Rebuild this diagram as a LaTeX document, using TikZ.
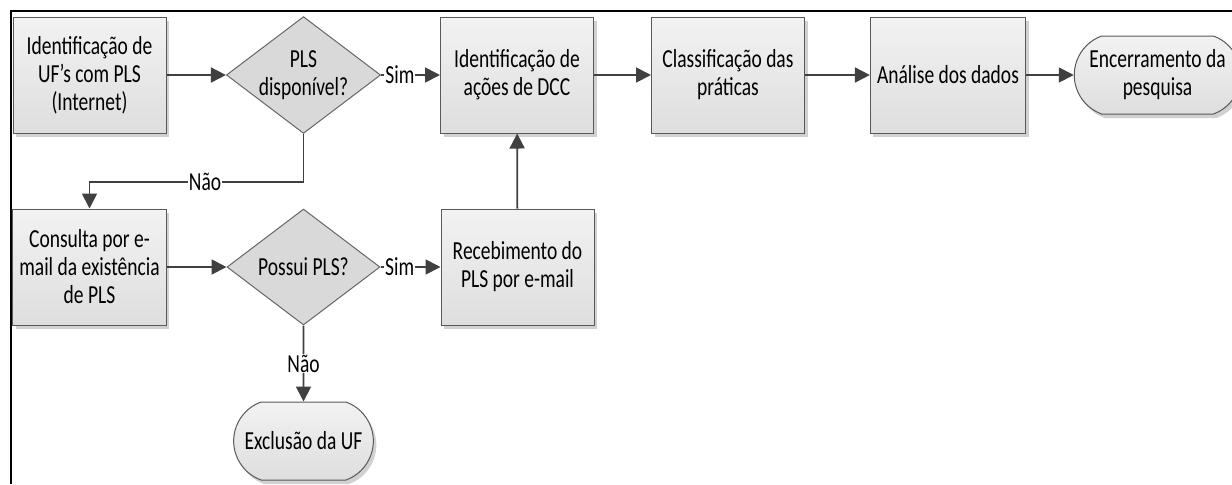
\documentclass[tikz,border=0pt]{standalone}
\usepackage{fontspec}
\setmainfont{Carlito}[FakeStretch=0.75]
\usetikzlibrary{shapes,shadows,arrows.meta}

\begin{document}
\begin{tikzpicture}[
    x=0.5pt,
    y=-0.5pt,
    font=\fontsize{13}{14}\selectfont,
    proc/.style={draw=black!65,line width=0.5pt,top color=black!5,bottom color=black!13,
      minimum width=76.5pt,minimum height=58pt,align=center,
      drop shadow={shadow xshift=1.5pt,shadow yshift=-2pt,fill=black!18,opacity=1}},
    decision/.style={diamond,aspect=1.32,draw=black!60,line width=0.5pt,fill=black!15,
      minimum width=76.5pt,minimum height=58pt,inner sep=0pt,align=center},
    term/.style={rounded rectangle,rounded rectangle arc length=140,draw=black!65,line width=0.5pt,
      top color=black!5,bottom color=black!13,minimum width=76.5pt,minimum height=39pt,align=center,
      drop shadow={shadow xshift=1.5pt,shadow yshift=-2pt,fill=black!18,opacity=1}},
    flow/.style={draw=black!75,line width=0.9pt,-{Triangle[length=7.5pt,width=7.5pt]}},
    lbl/.style={fill=white,inner sep=0.5pt}
    ]
    \useasboundingbox (0,0) rectangle (1232,484);
    % frame
    \draw[line width=1pt] (11,484) -- (11,11) -- (1232,11);

    \node[proc] (b1) at (89.5,75) {Identificação de\\UF’s com PLS\\(Internet)};
    \node[decision] (d1) at (303.5,75) {PLS\\disponível?};
    \node[proc] (b2) at (517,75) {Identificação de\\ações de DCC};
    \node[proc] (b3) at (728,75) {Classificação das\\práticas};
    \node[proc] (b4) at (948,75) {Análise dos dados};
    \node[term,minimum width=74.5pt] (t1) at (1157.5,75) {Encerramento da\\pesquisa};

    \node[proc] (b5) at (89.5,267) {Consulta por e-\\mail da existência\\de PLS};
    \node[decision] (d2) at (303.5,267) {Possui PLS?};
    \node[proc] (b6) at (517.5,267) {Recebimento do\\PLS por e-mail};
    \node[term] (t2) at (303.5,441) {Exclusão da UF};

    % top row
    \draw[flow] (b1) -- (d1);
    \draw[flow] (d1) -- node[lbl,pos=0.32] {Sim} (b2);
    \draw[flow] (b2) -- (b3);
    \draw[flow] (b3) -- (b4);
    \draw[flow] (b4) -- (t1);
    % not found on the internet
    \draw[flow] (d1.south) -- ++(0,48) -| node[lbl,pos=0.23] {Não} (b5.north);
    % bottom row
    \draw[flow] (b5) -- (d2);
    \draw[flow] (d2) -- node[lbl,pos=0.32] {Sim} (b6);
    \draw[flow] (d2) -- node[lbl] {Não} (t2);
    \draw[flow] (b6) -- (b2);
\end{tikzpicture}
\end{document}
